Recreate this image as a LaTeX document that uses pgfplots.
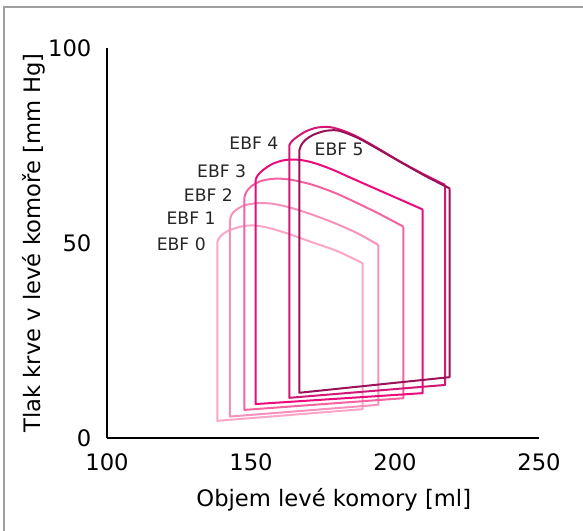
\documentclass[border=0pt]{standalone}
\usepackage{fontspec}
\setmainfont{DejaVu Sans}
\usepackage{pgfplots}
\pgfplotsset{compat=1.18}

\definecolor{ebf0}{HTML}{FBA6C9}
\definecolor{ebf1}{HTML}{F890BC}
\definecolor{ebf2}{HTML}{F4629F}
\definecolor{ebf3}{HTML}{EC0B7B}
\definecolor{ebf4}{HTML}{D21874}
\definecolor{ebf5}{HTML}{9C1258}

\begin{document}
\begin{tikzpicture}
\useasboundingbox (0pt,0pt) rectangle (437.25pt,398.25pt);
\draw[gray!75, line width=0.8pt] (3pt,0pt) -- (3pt,393pt) -- (437.25pt,393pt);
\begin{axis}[
    at={(80.25pt,69.75pt)}, anchor=south west,
    scale only axis,
    width=324pt, height=292.5pt,
    xmin=100, xmax=250, ymin=0, ymax=100,
    axis lines=left,
    axis line style={-, line width=2.2pt, black},
    xtick={100,150,200,250},
    ytick={0,50,100},
    major tick length=0pt,
    /pgf/number format/assume math mode=true,
    tick label style={font=\fontsize{17}{20}\selectfont, inner sep=0pt},
    xticklabel style={anchor=north, yshift=-11.25pt},
    yticklabel style={anchor=east, xshift=-11.5pt},
    xlabel={Objem levé komory [ml]},
    ylabel={Tlak krve v levé komoře [mm Hg]},
    label style={font=\fontsize{17}{20}\selectfont},
    xlabel style={at={(axis description cs:0.525,-0.159)}, anchor=center},
    ylabel style={at={(axis description cs:-0.169,0.5)}, anchor=center},
    every axis plot/.append style={line width=1.5pt, line join=round},
    clip=false,
]
% EBF 0
\addplot[ebf0, sharp plot] coordinates {(138.3,50.3) (138.3,4.4) (188.8,7.4) (188.8,44.8)};
\addplot[ebf0, smooth] coordinates {(188.8,44.8) (180,47.9) (170,50.5) (162,52.6) (156,53.9) (151,54.5) (146.5,54.2) (142,53.1) (139.5,51.8) (138.3,50.3)};
% EBF 1
\addplot[ebf1, sharp plot] coordinates {(142.7,55.9) (142.7,5.5) (194.2,8.5) (194.2,49.5)};
\addplot[ebf1, smooth] coordinates {(194.2,49.5) (186.7,52.6) (178,55.4) (170,57.6) (163,59.2) (157,60.1) (152,60.2) (147.5,59.6) (144.5,58.3) (143.3,57.3) (142.7,55.9)};
% EBF 2
\addplot[ebf2, sharp plot] coordinates {(147.7,61.7) (147.7,7.2) (202.9,10.2) (202.9,54.2)};
\addplot[ebf2, smooth] coordinates {(202.9,54.2) (195,57.3) (187,60.2) (179,62.9) (171,65.0) (164,66.2) (158.5,66.5) (153.5,65.9) (150,64.5) (148.4,63.1) (147.7,61.7)};
% EBF 3
\addplot[ebf3, sharp plot] coordinates {(151.6,66.2) (151.6,8.7) (209.6,11.5) (209.6,58.6)};
\addplot[ebf3, smooth] coordinates {(209.6,58.6) (201,61.4) (193,64.0) (185,66.6) (178,68.9) (172,70.5) (167,71.3) (162,71.3) (157.5,70.3) (154,68.6) (152.3,67.3) (151.6,66.2)};
% EBF 4
\addplot[ebf4, sharp plot] coordinates {(163.3,75.1) (163.3,10.3) (217.4,13.6) (217.4,64.9)};
\addplot[ebf4, smooth] coordinates {(217.4,64.9) (210,67.6) (202,70.8) (194,74.3) (187,77.2) (182,78.8) (177.5,79.7) (173,79.6) (169,78.6) (166,77.2) (164.2,76.1) (163.3,75.1)};
% EBF 5
\addplot[ebf5, sharp plot] coordinates {(166.8,73.8) (166.8,11.6) (219.0,15.6) (219.0,64.0)};
\addplot[ebf5, smooth] coordinates {(219.0,64.0) (211,67.0) (203,70.3) (195,73.7) (188,76.6) (183,78.2) (179.5,78.9) (175.5,78.7) (171.5,77.7) (169,76.5) (167.5,75.2) (166.8,73.8)};

\begin{scope}[every node/.style={font=\fontsize{12.9}{15}\selectfont, text=black!85, inner sep=0pt}]
\node at (axis cs:125.8,49.7) {EBF 0};
\node at (axis cs:129.2,56.4) {EBF 1};
\node at (axis cs:135.2,62.4) {EBF 2};
\node at (axis cs:139.8,68.3) {EBF 3};
\node at (axis cs:151.0,75.6) {EBF 4};
\node at (axis cs:180.6,74.1) {EBF 5};
\end{scope}
\end{axis}
\end{tikzpicture}
\end{document}
